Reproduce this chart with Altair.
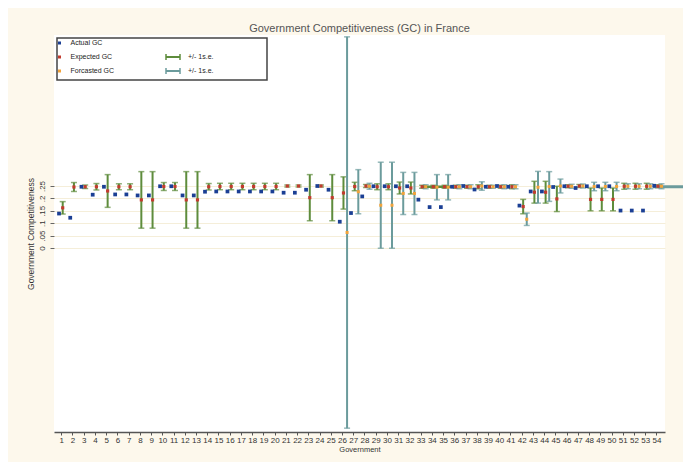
import altair as alt
import pandas as pd

gov = list(range(1, 55))
actual_gc = [0.139, 0.122, 0.247, 0.215, 0.247, 0.216, 0.216, 0.212, 0.212, 0.249,
             0.249, 0.212, 0.212, 0.227, 0.228, 0.228, 0.228, 0.228, 0.228, 0.228,
             0.223, 0.223, 0.235, 0.250, 0.235, 0.106, 0.141, 0.208, 0.249, 0.249,
             0.249, 0.249, 0.195, 0.165, 0.165, 0.247, 0.250, 0.236, 0.247, 0.250,
             0.247, 0.171, 0.228, 0.228, 0.246, 0.249, 0.242, 0.249, 0.249, 0.249,
             0.151, 0.151, 0.151, 0.251]
expected_gc = [0.162, 0.246, 0.247, 0.247, 0.230, 0.247, 0.247, 0.194, 0.194, 0.248,
               0.248, 0.194, 0.194, 0.247, 0.248, 0.248, 0.248, 0.248, 0.248, 0.248,
               0.250, 0.250, 0.203, 0.250, 0.203, 0.222, 0.248, 0.250, 0.247, 0.247,
               0.242, 0.242, 0.247, 0.247, 0.247, 0.247, 0.247, 0.247, 0.247, 0.247,
               0.247, 0.167, 0.225, 0.225, 0.198, 0.249, 0.250, 0.196, 0.196, 0.196,
               0.249, 0.249, 0.249, 0.249]
expected_se = [0.025, 0.018, 0.007, 0.013, 0.066, 0.012, 0.012, 0.114, 0.114, 0.016,
               0.016, 0.114, 0.114, 0.013, 0.013, 0.013, 0.013, 0.013, 0.013, 0.013,
               0.004, 0.004, 0.093, 0.004, 0.093, 0.065, 0.017, 0.006, 0.012, 0.012,
               0.024, 0.024, 0.006, 0.006, 0.006, 0.006, 0.006, 0.008, 0.006, 0.006,
               0.008, 0.029, 0.044, 0.044, 0.051, 0.006, 0.006, 0.046, 0.046, 0.046,
               0.012, 0.012, 0.012, 0.006]
forecast_gc = [None] * 25 + [0.0625, 0.227, 0.249, 0.1725, 0.1725, 0.220, 0.220, 0.247, 0.245, 0.245,
                             0.247, 0.247, 0.250, 0.247, 0.247, 0.247, 0.116, 0.245, 0.248, 0.250,
                             0.249, 0.250, 0.248, 0.248, 0.248, 0.249, 0.249, 0.249, 0.249]
forecast_se = [None] * 25 + [0.789, 0.089, 0.012, 0.1735, 0.1735, 0.085, 0.085, 0.008, 0.051, 0.051,
                             0.008, 0.008, 0.017, 0.006, 0.008, 0.008, 0.025, 0.064, 0.060, 0.028,
                             0.008, 0.008, 0.017, 0.017, 0.017, 0.010, 0.010, 0.010, 0.010]

# horizontal error segments visible in the original
green_seg = {"x": [33.1], "x2": [35.8], "y": [0.247]}
teal_seg = {"x": [53.7], "x2": [57.2], "y": [0.247]}

y_ticks = [0, 0.05, 0.10, 0.15, 0.20, 0.25]

BLUE = "#1b3f94"
RED = "#c23b2e"
ORANGE = "#f2a33a"
GREEN = "#5e8c3c"
TEAL = "#6b9b9c"
BG = "#fdf8ec"
FONT = "Liberation Sans"

df = pd.DataFrame({
    "gov": gov,
    "actual": actual_gc,
    "exp": expected_gc,
    "exp_se": expected_se,
    "fc": forecast_gc,
    "fc_se": forecast_se,
})
df["x_act"] = df["gov"] - 0.2
df["x_exp"] = df["gov"] + 0.13
df["x_fc"] = df["gov"] + 0.45
df["exp_lo"] = df["exp"] - df["exp_se"]
df["exp_hi"] = df["exp"] + df["exp_se"]
df["fc_lo"] = df["fc"] - df["fc_se"]
df["fc_hi"] = df["fc"] + df["fc_se"]

xs = alt.Scale(domain=[0.354, 54.76], nice=False, zero=False)
ys = alt.Scale(domain=[-0.742, 0.859], nice=False, zero=False)

x_axis = alt.Axis(values=gov, format="d", title="Government", labelOverlap=False,
                  labelFlush=False, grid=False, tickSize=3, labelPadding=1,
                  labelFontSize=8, labelFont=FONT, labelColor="#333",
                  titleFontSize=7.5, titleFont=FONT, titleFontWeight="normal",
                  titleColor="#333", titlePadding=1, domainColor="#555",
                  domainWidth=1.5, tickColor="#555")
y_axis = alt.Axis(values=y_ticks, title="Government Competitiveness",
                  labelExpr="datum.value == 0 ? '0' : substring(format(datum.value, '.2~f'), 1)",
                  labelAngle=270, labelAlign="center", labelBaseline="bottom",
                  labelFontSize=8, labelFont=FONT, labelColor="#333", labelPadding=4,
                  tickSize=4, tickColor="#666", domain=False, grid=True,
                  gridColor="#f5eed9", gridWidth=1, titleFontSize=8.5, titleFont=FONT,
                  titleFontWeight="normal", titleColor="#333", titlePadding=3)


def X(f):
    return alt.X(f, type="quantitative", scale=xs, axis=x_axis, title="Government")


def Y(f):
    return alt.Y(f, type="quantitative", scale=ys, axis=y_axis,
                 title="Government Competitiveness")


base = alt.Chart(df)
fcbase = base.transform_filter("isValid(datum.fc)")

# expected error bars
exp_rule = base.mark_rule(color=GREEN, strokeWidth=2).encode(
    x=X("x_exp"), y=Y("exp_lo"), y2="exp_hi:Q")
exp_cap_lo = base.mark_tick(color=GREEN, orient="horizontal", size=6, thickness=1.5).encode(
    x=X("x_exp"), y=Y("exp_lo"))
exp_cap_hi = base.mark_tick(color=GREEN, orient="horizontal", size=6, thickness=1.5).encode(
    x=X("x_exp"), y=Y("exp_hi"))

fc_rule = fcbase.mark_rule(color=TEAL, strokeWidth=2).encode(
    x=X("x_fc"), y=Y("fc_lo"), y2="fc_hi:Q")
fc_cap_lo = fcbase.mark_tick(color=TEAL, orient="horizontal", size=6, thickness=1.5).encode(
    x=X("x_fc"), y=Y("fc_lo"))
fc_cap_hi = fcbase.mark_tick(color=TEAL, orient="horizontal", size=6, thickness=1.5).encode(
    x=X("x_fc"), y=Y("fc_hi"))

gseg = alt.Chart(pd.DataFrame(green_seg)).mark_rule(color=GREEN, strokeWidth=2.5).encode(
    x=X("x"), x2="x2:Q", y=Y("y"))
tseg = alt.Chart(pd.DataFrame(teal_seg)).mark_rule(color=TEAL, strokeWidth=3, clip=False).encode(
    x=X("x"), x2="x2:Q", y=Y("y"))

exp_pts = base.mark_square(color=RED, size=10, opacity=1).encode(x=X("x_exp"), y=Y("exp"))
fc_pts = fcbase.mark_square(color=ORANGE, size=9, opacity=1).encode(x=X("x_fc"), y=Y("fc"))
act_pts = base.mark_square(color=BLUE, size=14, opacity=1).encode(x=X("x_act"), y=Y("actual"))

# legend box (hand-built)
one = alt.Chart(pd.DataFrame({"k": [0]}))
leg_box = one.mark_rect(fill="white", stroke="#444", strokeWidth=1.5).encode(
    x=alt.value(3), x2=alt.value(213), y=alt.value(3), y2=alt.value(45))
leg_layers = [leg_box]
rows = [("Actual GC", BLUE, 8), ("Expected GC", RED, 22), ("Forcasted GC", ORANGE, 36)]
for label, col, yy in rows:
    leg_layers.append(one.mark_square(color=col, size=9, opacity=1).encode(
        x=alt.value(5.5), y=alt.value(yy)))
    leg_layers.append(one.mark_text(align="left", baseline="middle", fontSize=7, font=FONT,
                                    color="#222").encode(
        x=alt.value(16.5), y=alt.value(yy), text=alt.value(label)))
for col, yy in [(GREEN, 22), (TEAL, 36)]:
    leg_layers.append(one.mark_rule(color=col, strokeWidth=2).encode(
        x=alt.value(112), x2=alt.value(126), y=alt.value(yy)))
    leg_layers.append(one.mark_rule(color=col, strokeWidth=1.5).encode(
        x=alt.value(112), y=alt.value(yy - 3), y2=alt.value(yy + 3)))
    leg_layers.append(one.mark_rule(color=col, strokeWidth=1.5).encode(
        x=alt.value(126), y=alt.value(yy - 3), y2=alt.value(yy + 3)))
    leg_layers.append(one.mark_text(align="left", baseline="middle", fontSize=7, font=FONT,
                                    color="#222").encode(
        x=alt.value(134), y=alt.value(yy), text=alt.value("+/- 1s.e.")))

chart = alt.layer(
    exp_rule, exp_cap_lo, exp_cap_hi, fc_rule, fc_cap_lo, fc_cap_hi, gseg, tseg,
    exp_pts, fc_pts, act_pts, *leg_layers
).properties(
    width=611, height=397,
    title=alt.TitleParams("Government Competitiveness (GC) in France", fontSize=11,
                          font=FONT, fontWeight="normal", color="#555", offset=1),
    autosize=alt.AutoSizeParams(type="none"),
    padding={"left": 46, "top": 27, "right": 18, "bottom": 30},
    background=BG,
).configure_view(fill="white", stroke=None)

chart.save("out.html", embed_options={"renderer": "svg", "actions": False})
